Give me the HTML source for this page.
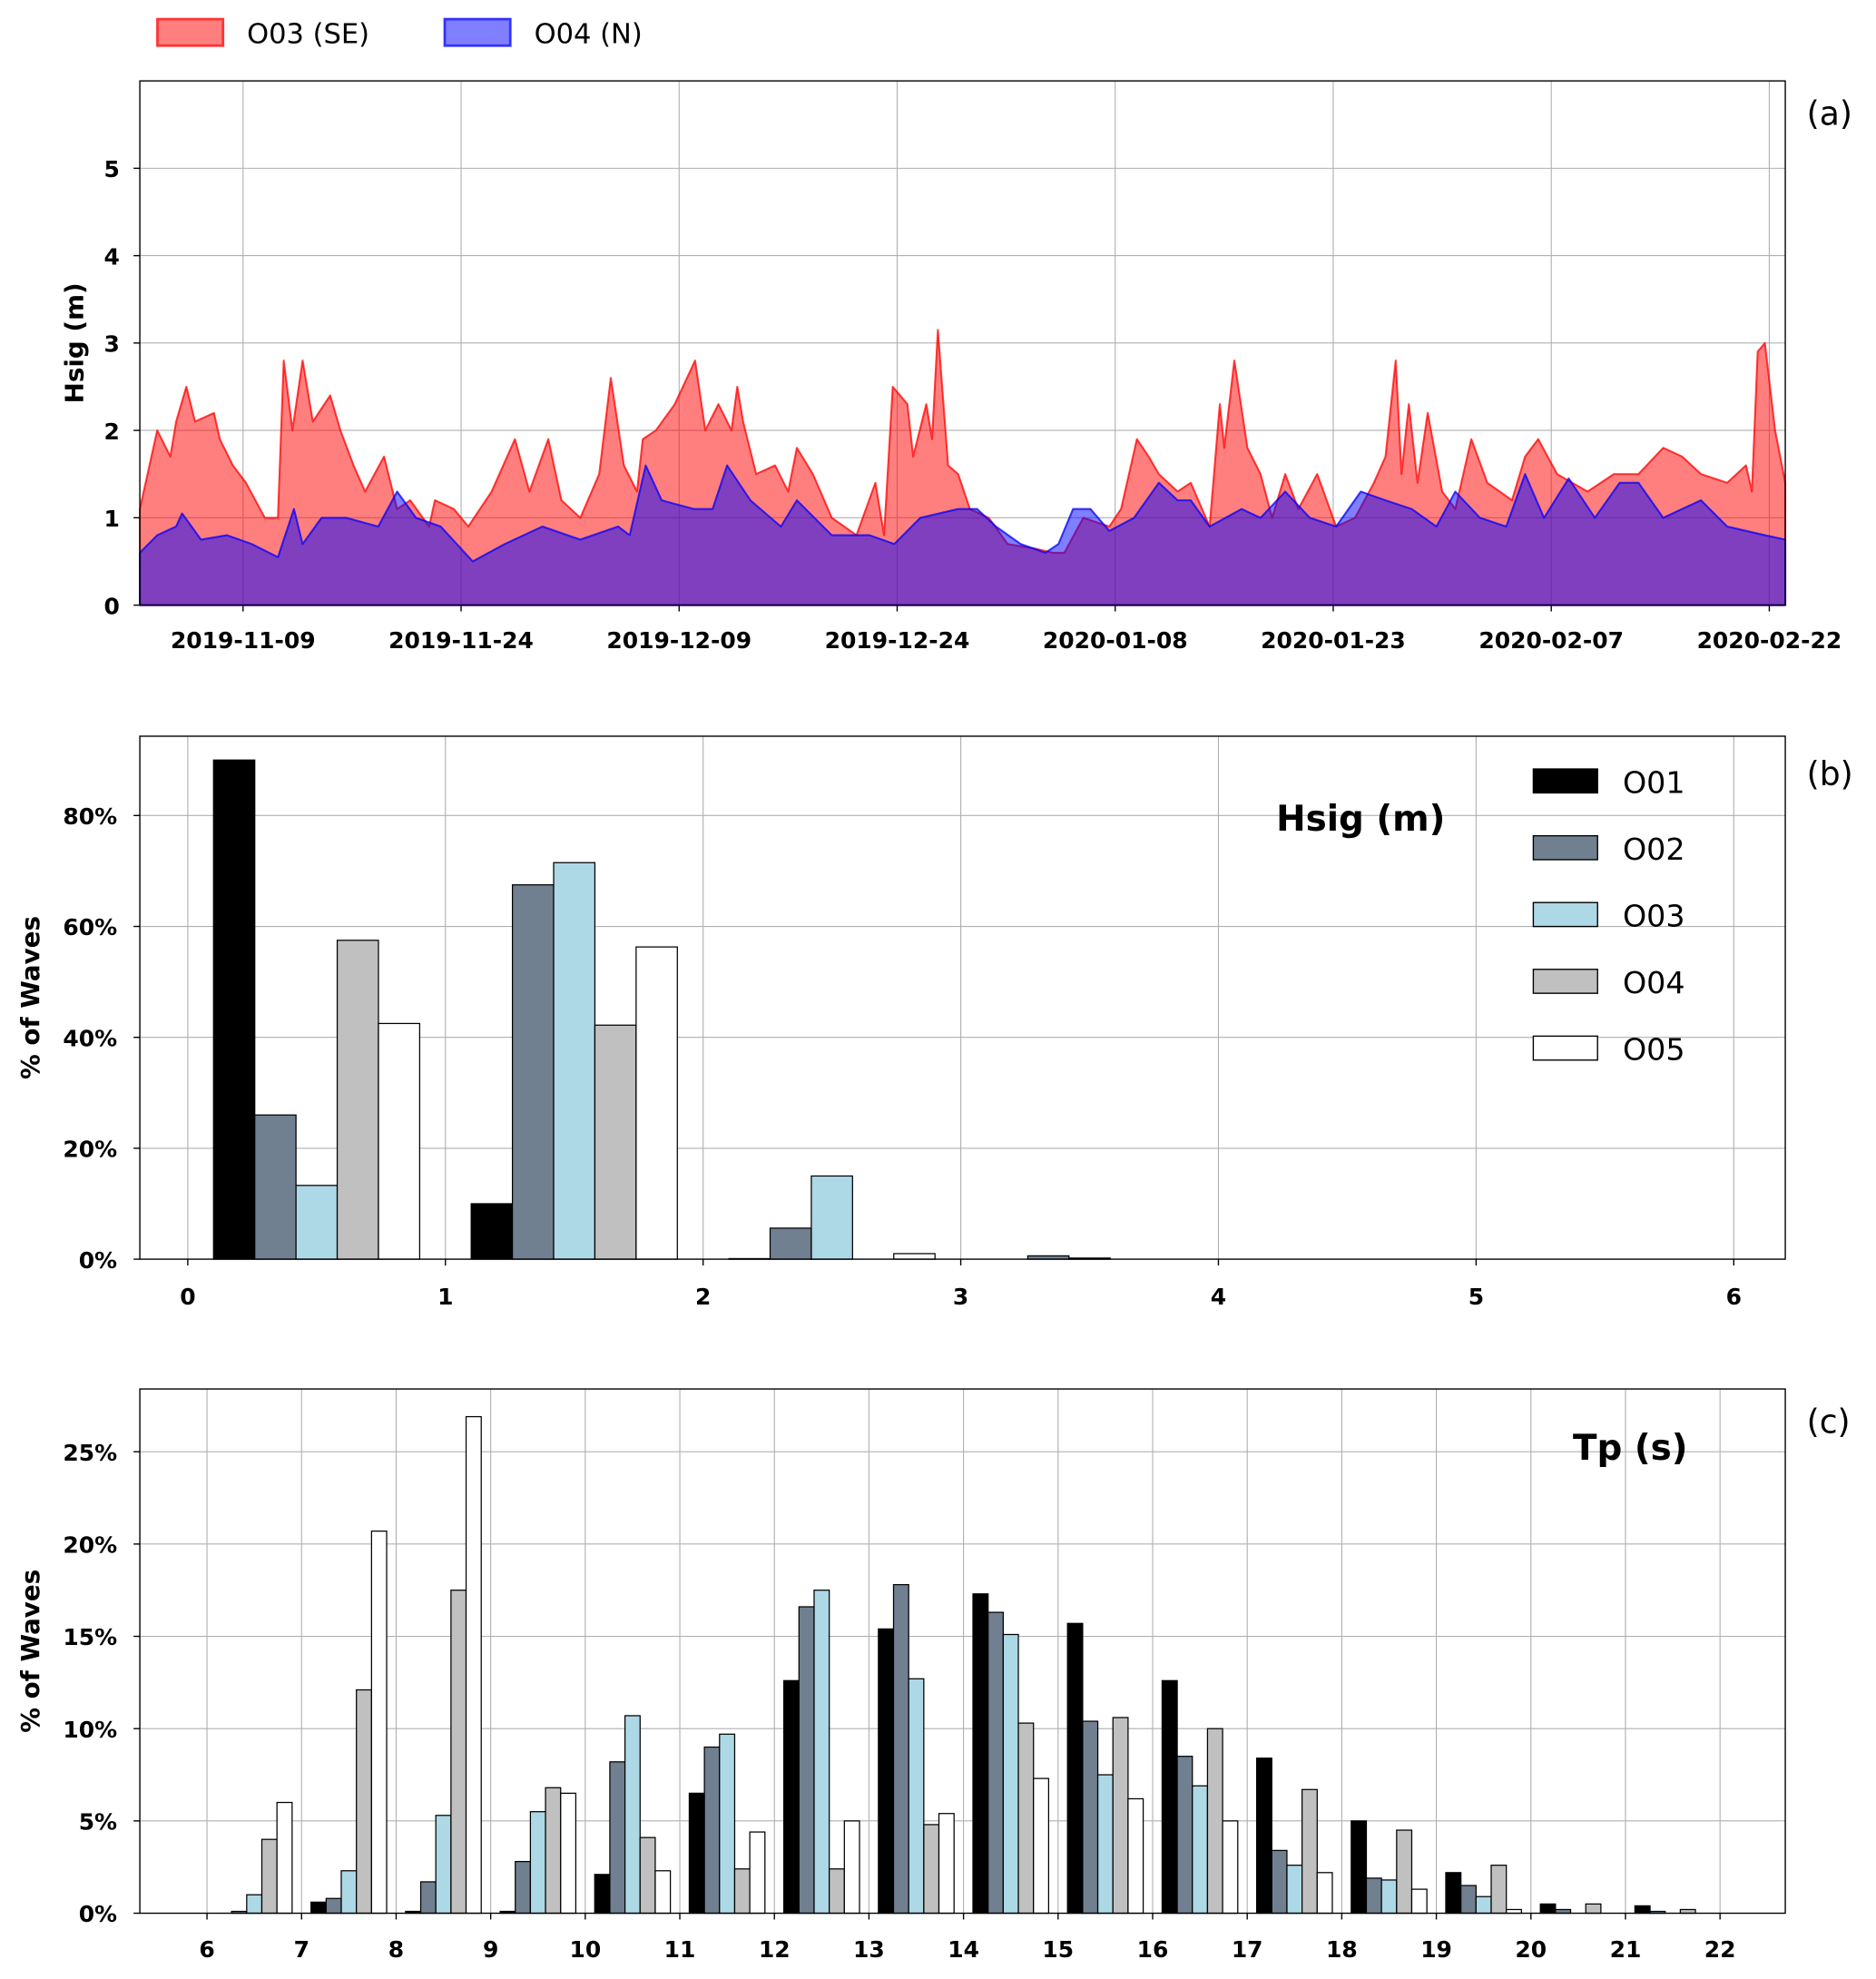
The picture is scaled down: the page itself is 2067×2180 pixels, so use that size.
<!DOCTYPE html>
<html><head><meta charset="utf-8">
<style>
html,body{margin:0;padding:0;background:#fff;}
svg{display:block;font-family:"DejaVu Sans","Liberation Sans",sans-serif;}
.tick{font-size:18px;font-weight:bold;fill:#000;}
</style></head>
<body>
<svg id="fig" width="2067" height="2180" viewBox="0 0 1489 1570" xmlns="http://www.w3.org/2000/svg">
<rect width="1489" height="1570" fill="#fff"/>
<g id="legend-top">
  <rect x="125" y="15" width="52" height="21" fill="rgba(255,0,0,0.5)" stroke="#f33" stroke-width="2"/>
  <text x="196" y="34" font-size="22">O03 (SE)</text>
  <rect x="353" y="15" width="52" height="21" fill="rgba(0,0,255,0.5)" stroke="#33f" stroke-width="2"/>
  <text x="424" y="34" font-size="22">O04 (N)</text>
</g>
<g id="pa"></g>
<g id="pb"></g>
<g id="pc"></g>
</svg>
<script>
// ---- Panel (a) data: day offset from 2019-11-02, Hsig (m)
const redDays=[0,1.2,2.1,2.5,3.2,3.8,5.1,5.5,6.4,7.3,8.6,9.5,9.9,10.5,11.2,11.9,13.1,13.8,14.7,15.5,16.8,17.7,18.6,19.9,20.3,21.6,22.6,24.2,25.8,26.8,28.1,29.0,30.3,31.6,32.4,33.3,34.2,34.6,35.5,36.8,38.2,38.9,39.8,40.7,41.1,41.5,42.4,43.7,44.6,45.2,46.3,47.6,49.3,50.6,51.2,51.8,52.8,53.2,54.1,54.5,54.9,55.6,56.3,57.1,58.4,59.7,61.5,62.8,63.6,64.9,66.7,67.5,68.6,69.4,70.1,71.4,72.3,73.6,74.3,74.6,75.3,76.2,77.1,77.9,78.8,79.7,81.0,82.3,83.6,84.9,85.7,86.4,86.8,87.3,87.9,88.6,89.6,90.5,91.6,92.7,94.4,95.3,96.2,97.5,99.6,101.4,103.1,104.8,106.1,107.4,109.2,110.5,110.9,111.3,111.8,112.5,113.2];
const redVals=[1.1,2.0,1.7,2.1,2.5,2.1,2.2,1.9,1.6,1.4,1.0,1.0,2.8,2.0,2.8,2.1,2.4,2.0,1.6,1.3,1.7,1.1,1.2,0.9,1.2,1.1,0.9,1.3,1.9,1.3,1.9,1.2,1.0,1.5,2.6,1.6,1.3,1.9,2.0,2.3,2.8,2.0,2.3,2.0,2.5,2.1,1.5,1.6,1.3,1.8,1.5,1.0,0.8,1.4,0.8,2.5,2.3,1.7,2.3,1.9,3.15,1.6,1.5,1.1,1.0,0.7,0.65,0.6,0.6,1.0,0.9,1.1,1.9,1.7,1.5,1.3,1.4,0.9,2.3,1.8,2.8,1.8,1.5,1.0,1.5,1.1,1.5,0.9,1.0,1.4,1.7,2.8,1.5,2.3,1.4,2.2,1.3,1.1,1.9,1.4,1.2,1.7,1.9,1.5,1.3,1.5,1.5,1.8,1.7,1.5,1.4,1.6,1.3,2.9,3.0,2.0,1.4];
const blueDays=[0,1.2,2.5,2.9,4.2,6.0,7.7,9.5,10.6,11.2,12.5,14.2,16.4,17.7,19.0,20.7,22.9,25.1,27.7,30.3,32.9,33.7,34.8,35.9,38.1,39.4,40.4,42.0,44.1,45.2,47.6,50.2,51.9,53.7,56.3,57.6,58.9,60.6,62.3,63.2,64.2,65.4,66.7,68.4,70.1,71.4,72.3,73.6,75.8,77.1,78.8,80.5,82.3,84.0,85.7,87.5,89.2,90.5,92.2,94.0,95.3,96.6,98.3,100.1,101.8,103.1,104.8,106.1,107.4,109.2,111.8,113.2];
const blueVals=[0.6,0.8,0.9,1.05,0.75,0.8,0.7,0.55,1.1,0.7,1.0,1.0,0.9,1.3,1.0,0.9,0.5,0.7,0.9,0.75,0.9,0.8,1.6,1.2,1.1,1.1,1.6,1.2,0.9,1.2,0.8,0.8,0.7,1.0,1.1,1.1,0.9,0.7,0.6,0.7,1.1,1.1,0.85,1.0,1.4,1.2,1.2,0.9,1.1,1.0,1.3,1.0,0.9,1.3,1.2,1.1,0.9,1.3,1.0,0.9,1.5,1.0,1.45,1.0,1.4,1.4,1.0,1.1,1.2,0.9,0.8,0.75];
const dateTickDays=[7.1,22.1,37.1,52.1,67.1,82.1,97.1,112.1];
const dateTickLabels=["2019-11-09","2019-11-24","2019-12-09","2019-12-24","2020-01-08","2020-01-23","2020-02-07","2020-02-22"];
const hsigTicks=[0,1,2,3,4,5];

// ---- Panel (b) data
const series=["O01","O02","O03","O04","O05"];
const colors=["#000000","#708090","#add8e6","#c0c0c0","#ffffff"];
const hsigBins=[0,1,2,3,4,5];
const hsigO01=[90,10,0.1,0,0,0];
const hsigO02=[26,67.5,5.6,0.6,0,0];
const hsigO03=[13.3,71.5,15,0.2,0,0];
const hsigO04=[57.5,42.2,0,0,0,0];
const hsigO05=[42.5,56.3,1.0,0,0,0];
const bXTicks=[0,1,2,3,4,5,6];
const bYTicks=[0,20,40,60,80];

// ---- Panel (c) data
const tpBins=[6,7,8,9,10,11,12,13,14,15,16,17,18,19,20,21];
const tpO01=[0,0.6,0.1,0.1,2.1,6.5,12.6,15.4,17.3,15.7,12.6,8.4,5.0,2.2,0.5,0.4];
const tpO02=[0.1,0.8,1.7,2.8,8.2,9.0,16.6,17.8,16.3,10.4,8.5,3.4,1.9,1.5,0.2,0.1];
const tpO03=[1.0,2.3,5.3,5.5,10.7,9.7,17.5,12.7,15.1,7.5,6.9,2.6,1.8,0.9,0,0];
const tpO04=[4.0,12.1,17.5,6.8,4.1,2.4,2.4,4.8,10.3,10.6,10.0,6.7,4.5,2.6,0.5,0.2];
const tpO05=[6.0,20.7,26.9,6.5,2.3,4.4,5.0,5.4,7.3,6.2,5.0,2.2,1.3,0.2,0,0];
const cXTicks=[6,7,8,9,10,11,12,13,14,15,16,17,18,19,20,21,22];
const cYTicks=[0,5,10,15,20,25];

const NS="http://www.w3.org/2000/svg";
function mk(parent,tag,attrs){const e=document.createElementNS(NS,tag);for(const k in attrs)e.setAttribute(k,attrs[k]);parent.appendChild(e);return e;}
function txt(parent,x,y,s,attrs){const e=mk(parent,'text',Object.assign({x:x,y:y},attrs||{}));e.textContent=s;return e;}

function frame(g,L,T,R,B,label,lx,ly){
  const f=mk(g,'rect',{x:L,y:T,width:R-L,height:B-T,fill:'none',stroke:'#000','stroke-width':1});
  
  
  const t=txt(g,lx,ly,label,{'font-size':26});
  
  
}
function grid(g,x1,y1,x2,y2){const l=mk(g,'line',{x1:x1,y1:y1,x2:x2,y2:y2,stroke:'#b0b0b0','stroke-width':0.8});
  
  }

// ===== Panel a
(function(){
  const g=document.getElementById('pa');
  const L=111,T=64,R=1417,B=480;
  const x=d=>L+(d-0)/(113.2)*(R-L);
  const y=v=>B-v/6.0*(B-T);
  hsigTicks.forEach(v=>{ if(v>0) grid(g,L,y(v),R,y(v));
    mk(g,'line',{x1:L-5,y1:y(v),x2:L,y2:y(v),stroke:'#000'});
    const t=txt(g,L-16,y(v)+7,String(v),{class:'tick','text-anchor':'end'});
    
    });
  dateTickDays.forEach((d,i)=>{grid(g,x(d),T,x(d),B);
    mk(g,'line',{x1:x(d),y1:B,x2:x(d),y2:B+5,stroke:'#000'});
    const t=txt(g,x(d),B+34,dateTickLabels[i],{class:'tick','text-anchor':'middle'});
    
    });
  function area(days,vals,fill,stroke,name){
    let d='M'+x(days[0])+','+y(0);
    days.forEach((dd,i)=>{d+=' L'+x(dd).toFixed(1)+','+y(vals[i]).toFixed(1);});
    d+=' L'+x(days[days.length-1])+','+y(0)+' Z';
    const p=mk(g,'path',{d:d,fill:fill,stroke:stroke,'stroke-width':1.5,'stroke-linejoin':'round'});
    
    
  }
  area(redDays,redVals,'rgba(255,0,0,0.5)','rgba(255,0,0,0.75)','area-o03-se');
  area(blueDays,blueVals,'rgba(0,0,255,0.5)','rgba(0,0,255,0.75)','area-o04-n');
  const yt=txt(g,0,0,'Hsig (m)',{'font-size':20,'font-weight':'bold','text-anchor':'middle',transform:'translate(66,272) rotate(-90)'});
  
  
  frame(g,L,T,R,B,'(a)',1434,99);
})();

function barPanel(gid,L,T,R,B,xmin,xmax,ymax,bins,data,xTicks,xLabelY,yTicks,yFmt,title,titleX,titleY,label,labelY){
  const g=document.getElementById(gid);
  const x=v=>L+(v-xmin)/(xmax-xmin)*(R-L);
  const y=v=>B-v/ymax*(B-T);
  yTicks.forEach(v=>{ if(v>0) grid(g,L,y(v),R,y(v));
    mk(g,'line',{x1:L-5,y1:y(v),x2:L,y2:y(v),stroke:'#000'});
    const t=txt(g,L-18,y(v)+7,yFmt(v),{class:'tick','text-anchor':'end'});
    
    });
  xTicks.forEach(v=>{grid(g,x(v),T,x(v),B);
    mk(g,'line',{x1:x(v),y1:B,x2:x(v),y2:B+5,stroke:'#000'});
    const t=txt(g,x(v),xLabelY,String(v),{class:'tick','text-anchor':'middle'});
    
    });
  data.forEach((arr,s)=>{arr.forEach((v,i)=>{
    if(v<=0) return;
    const x0=x(bins[i]+0.1+0.16*s), x1=x(bins[i]+0.1+0.16*(s+1));
    const r=mk(g,'rect',{x:x0,y:y(v),width:x1-x0,height:B-y(v),fill:colors[s],stroke:'#000','stroke-width':0.9});
    
    
  });});
  const tt=txt(g,titleX,titleY,title,{'font-size':28,'font-weight':'bold','text-anchor':'middle'});
  
  
  const yt=txt(g,0,0,'% of Waves',{'font-size':20,'font-weight':'bold','text-anchor':'middle',transform:'translate(31,'+((T+B)/2)+') rotate(-90)'});
  
  
  frame(g,L,T,R,B,label,1434,labelY);
  return g;
}
const gb=barPanel('pb',111,584,1417,999,-0.186,6.2,94.3,hsigBins,[hsigO01,hsigO02,hsigO03,hsigO04,hsigO05],bXTicks,1035,bYTicks,v=>v+'%','Hsig (m)',1080,659,'(b)',623);
// legend in panel b
series.forEach((s,i)=>{
  const yy=610+53*i;
  const r=mk(gb,'rect',{x:1217,y:yy,width:51,height:19,fill:colors[i],stroke:'#000','stroke-width':1});
  
  
  const t=txt(gb,1288,yy+19,s,{'font-size':24});
  
  
});
barPanel('pc',111,1102,1417,1518,5.29,22.69,28.4,tpBins,[tpO01,tpO02,tpO03,tpO04,tpO05],cXTicks,1553,cYTicks,v=>v+'%','Tp (s)',1294,1158,'(c)',1137);
</script>
</body></html>
